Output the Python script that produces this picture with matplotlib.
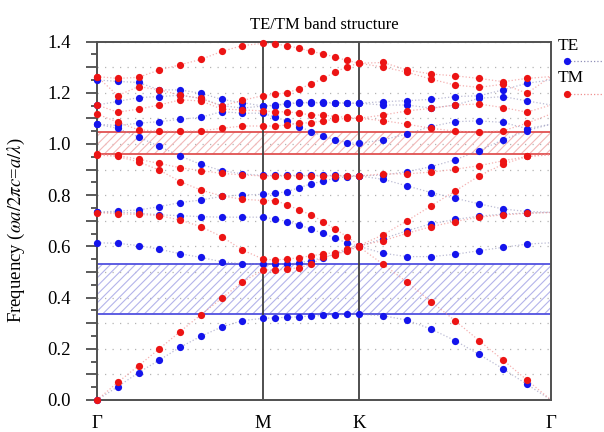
import numpy as np
import matplotlib.pyplot as plt
from matplotlib.ticker import MultipleLocator, FuncFormatter
from matplotlib.lines import Line2D

plt.rcParams['font.family'] = 'Liberation Serif'
plt.rcParams['mathtext.fontset'] = 'stix'
plt.rcParams['hatch.linewidth'] = 0.8

# k-path Gamma -> M -> K -> Gamma, 8 steps on each leg
k_names = ['\u0393', 'M', 'K', '\u0393']
leg_lengths = [1 / np.sqrt(3), 1 / 3, 2 / 3]
steps_per_leg = 8

# TE bands (25 k-points each)
te_bands = [
    [0.000, 0.052, 0.107, 0.156, 0.206, 0.249, 0.285, 0.310, 0.319,
     0.321, 0.323, 0.325, 0.328, 0.330, 0.332, 0.334, 0.335,
     0.329, 0.312, 0.277, 0.232, 0.178, 0.122, 0.061, 0.000],
    [0.614, 0.612, 0.603, 0.589, 0.571, 0.557, 0.540, 0.532, 0.530,
     0.530, 0.530, 0.536, 0.544, 0.556, 0.570, 0.585, 0.600,
     0.573, 0.560, 0.560, 0.569, 0.583, 0.596, 0.609, 0.614],
    [0.733, 0.733, 0.730, 0.723, 0.720, 0.716, 0.714, 0.714, 0.714,
     0.707, 0.697, 0.684, 0.667, 0.651, 0.632, 0.613, 0.600,
     0.630, 0.661, 0.688, 0.705, 0.718, 0.726, 0.730, 0.733],
    [0.733, 0.738, 0.742, 0.755, 0.771, 0.781, 0.795, 0.801, 0.803,
     0.807, 0.814, 0.829, 0.844, 0.855, 0.866, 0.872, 0.875,
     0.862, 0.836, 0.810, 0.788, 0.766, 0.746, 0.736, 0.733],
    [1.077, 1.061, 1.027, 0.990, 0.953, 0.920, 0.896, 0.883, 0.877,
     0.877, 0.877, 0.877, 0.877, 0.877, 0.877, 0.876, 0.876,
     0.878, 0.892, 0.911, 0.938, 0.974, 1.016, 1.052, 1.077],
    [1.077, 1.072, 1.081, 1.087, 1.096, 1.104, 1.126, 1.120, 1.120,
     1.104, 1.090, 1.068, 1.048, 1.031, 1.016, 1.005, 1.002,
     1.016, 1.039, 1.068, 1.087, 1.090, 1.084, 1.060, 1.077],
    [1.152, 1.166, 1.181, 1.185, 1.190, 1.178, 1.150, 1.140, 1.148,
     1.150, 1.156, 1.160, 1.160, 1.160, 1.160, 1.159, 1.159,
     1.152, 1.152, 1.140, 1.152, 1.178, 1.185, 1.168, 1.152],
    [1.250, 1.244, 1.240, 1.211, 1.211, 1.198, 1.174, 1.161, 1.148,
     1.152, 1.158, 1.162, 1.162, 1.162, 1.161, 1.160, 1.159,
     1.165, 1.169, 1.174, 1.185, 1.188, 1.211, 1.237, 1.250],
]

# TM bands (25 k-points each)
tm_bands = [
    [0.000, 0.069, 0.134, 0.200, 0.267, 0.333, 0.397, 0.461, 0.508,
     0.508, 0.511, 0.517, 0.530, 0.557, 0.568, 0.583, 0.598,
     0.530, 0.460, 0.384, 0.310, 0.232, 0.156, 0.078, 0.000],
    [0.732, 0.727, 0.725, 0.720, 0.703, 0.677, 0.638, 0.586, 0.550,
     0.547, 0.550, 0.556, 0.563, 0.570, 0.576, 0.590, 0.603,
     0.622, 0.651, 0.677, 0.697, 0.714, 0.723, 0.729, 0.732],
    [0.957, 0.951, 0.930, 0.898, 0.853, 0.820, 0.797, 0.784, 0.779,
     0.779, 0.762, 0.742, 0.723, 0.697, 0.667, 0.638, 0.603,
     0.645, 0.700, 0.758, 0.816, 0.875, 0.921, 0.951, 0.957],
    [0.960, 0.955, 0.940, 0.924, 0.907, 0.896, 0.885, 0.879, 0.875,
     0.875, 0.875, 0.875, 0.875, 0.875, 0.875, 0.875, 0.875,
     0.883, 0.883, 0.890, 0.901, 0.915, 0.934, 0.951, 0.960],
    [1.117, 1.085, 1.055, 1.050, 1.049, 1.051, 1.061, 1.070, 1.070,
     1.070, 1.074, 1.081, 1.083, 1.090, 1.096, 1.100, 1.100,
     1.091, 1.077, 1.061, 1.050, 1.046, 1.051, 1.081, 1.117],
    [1.152, 1.124, 1.136, 1.152, 1.172, 1.168, 1.136, 1.133, 1.129,
     1.125, 1.126, 1.120, 1.113, 1.113, 1.107, 1.104, 1.100,
     1.113, 1.129, 1.139, 1.152, 1.156, 1.142, 1.124, 1.152],
    [1.263, 1.189, 1.224, 1.211, 1.191, 1.178, 1.148, 1.170, 1.189,
     1.194, 1.200, 1.215, 1.234, 1.256, 1.280, 1.302, 1.315,
     1.300, 1.280, 1.253, 1.230, 1.221, 1.233, 1.198, 1.263],
    [1.263, 1.256, 1.260, 1.289, 1.309, 1.330, 1.361, 1.384, 1.393,
     1.391, 1.383, 1.374, 1.361, 1.352, 1.339, 1.326, 1.315,
     1.318, 1.289, 1.273, 1.266, 1.256, 1.243, 1.256, 1.263],
]

# k-path coordinates
nodes = np.concatenate([[0], np.cumsum(leg_lengths)])
k = [nodes[0]]
for a, b in zip(nodes[:-1], nodes[1:]):
    k.extend(np.linspace(a, b, steps_per_leg + 1)[1:])
k = np.array(k)

te_col = '#1414ec'
tm_col = '#ec1414'
ms = 5.2

fig = plt.figure(figsize=(6.04, 4.32), dpi=100)
ax = fig.add_axes([97 / 604, 32 / 432, 454 / 604, 358.5 / 432])

# band gaps
te_gap = (max(te_bands[0]), min(te_bands[1]))
tm_gap = (max(tm_bands[3]), min(tm_bands[4]))
ax.axhspan(*te_gap, facecolor='none', edgecolor='#b4b4ea', hatch='////',
           linewidth=0, zorder=1)
ax.axhspan(*tm_gap, facecolor='none', edgecolor='#f2b8b8', hatch='////',
           linewidth=0, zorder=1)
for g in te_gap:
    ax.axhline(g, color='#5252e0', lw=1.3, zorder=2)
for g in tm_gap:
    ax.axhline(g, color='#e05252', lw=1.3, zorder=2)

for xn in nodes[1:-1]:
    ax.axvline(xn, color='#404040', lw=1.3, zorder=2)

for band in te_bands:
    ax.plot(k, band, ls=':', color='#9090b8', lw=0.9, alpha=0.6, zorder=2)
for band in tm_bands:
    ax.plot(k, band, ls=':', color='#f09090', lw=0.9, alpha=0.7, zorder=2)
for band in te_bands:
    ax.plot(k[:-1], band[:-1], 'o', color=te_col, ms=ms, mec='none', zorder=3,
            clip_on=False)
for band in tm_bands:
    ax.plot(k[:-1], band[:-1], 'o', color=tm_col, ms=ms, mec='none', zorder=4,
            clip_on=False)

ax.set_xlim(nodes[0], nodes[-1])
ax.set_ylim(0, 1.4)
ax.set_xticks(nodes)
ax.set_xticklabels(k_names)
ax.tick_params(axis='x', length=0, pad=11, labelsize=13.5)

ax.yaxis.set_major_locator(MultipleLocator(0.1))
ax.yaxis.set_minor_locator(MultipleLocator(0.05))
ax.yaxis.set_major_formatter(FuncFormatter(
    lambda v, p: f'{v:.1f}' if round(v * 10) % 2 == 0 else ''))
ax.tick_params(axis='y', which='major', direction='out', length=8, width=1.2,
               color='#404040', pad=11, labelsize=13.5)
ax.tick_params(axis='y', which='minor', direction='out', length=4, width=1.2,
               color='#404040')
ax.grid(axis='y', which='major', ls=(0, (1, 5)), color='#b4b4b4', lw=0.9,
        zorder=0)
ax.set_axisbelow(True)

for s in ax.spines.values():
    s.set_color('#505050')
    s.set_linewidth(1.4)

ax.set_title('TE/TM band structure', fontsize=12, pad=9)
ax.set_ylabel('Frequency ($\\omega a/2\\pi c$=$a/\\lambda$)', fontsize=13.5)
ax.yaxis.set_label_coords(-0.155, 0.475)

# legend on the right
fig.text(558 / 604, 1 - 46 / 432, 'TE', fontsize=12.5, va='center')
fig.add_artist(Line2D([567 / 604, 603 / 604], [1 - 61 / 432] * 2,
                      transform=fig.transFigure, ls=':', color='#9090b8', lw=0.9))
fig.add_artist(Line2D([567 / 604], [1 - 61 / 432], transform=fig.transFigure,
                      marker='o', color=te_col, ms=ms, mec='none'))
fig.text(558 / 604, 1 - 78 / 432, 'TM', fontsize=12.5, va='center')
fig.add_artist(Line2D([567 / 604, 603 / 604], [1 - 94 / 432] * 2,
                      transform=fig.transFigure, ls=':', color='#f09090', lw=0.9))
fig.add_artist(Line2D([567 / 604], [1 - 94 / 432], transform=fig.transFigure,
                      marker='o', color=tm_col, ms=ms, mec='none'))

fig.savefig('out.png', dpi=100)
